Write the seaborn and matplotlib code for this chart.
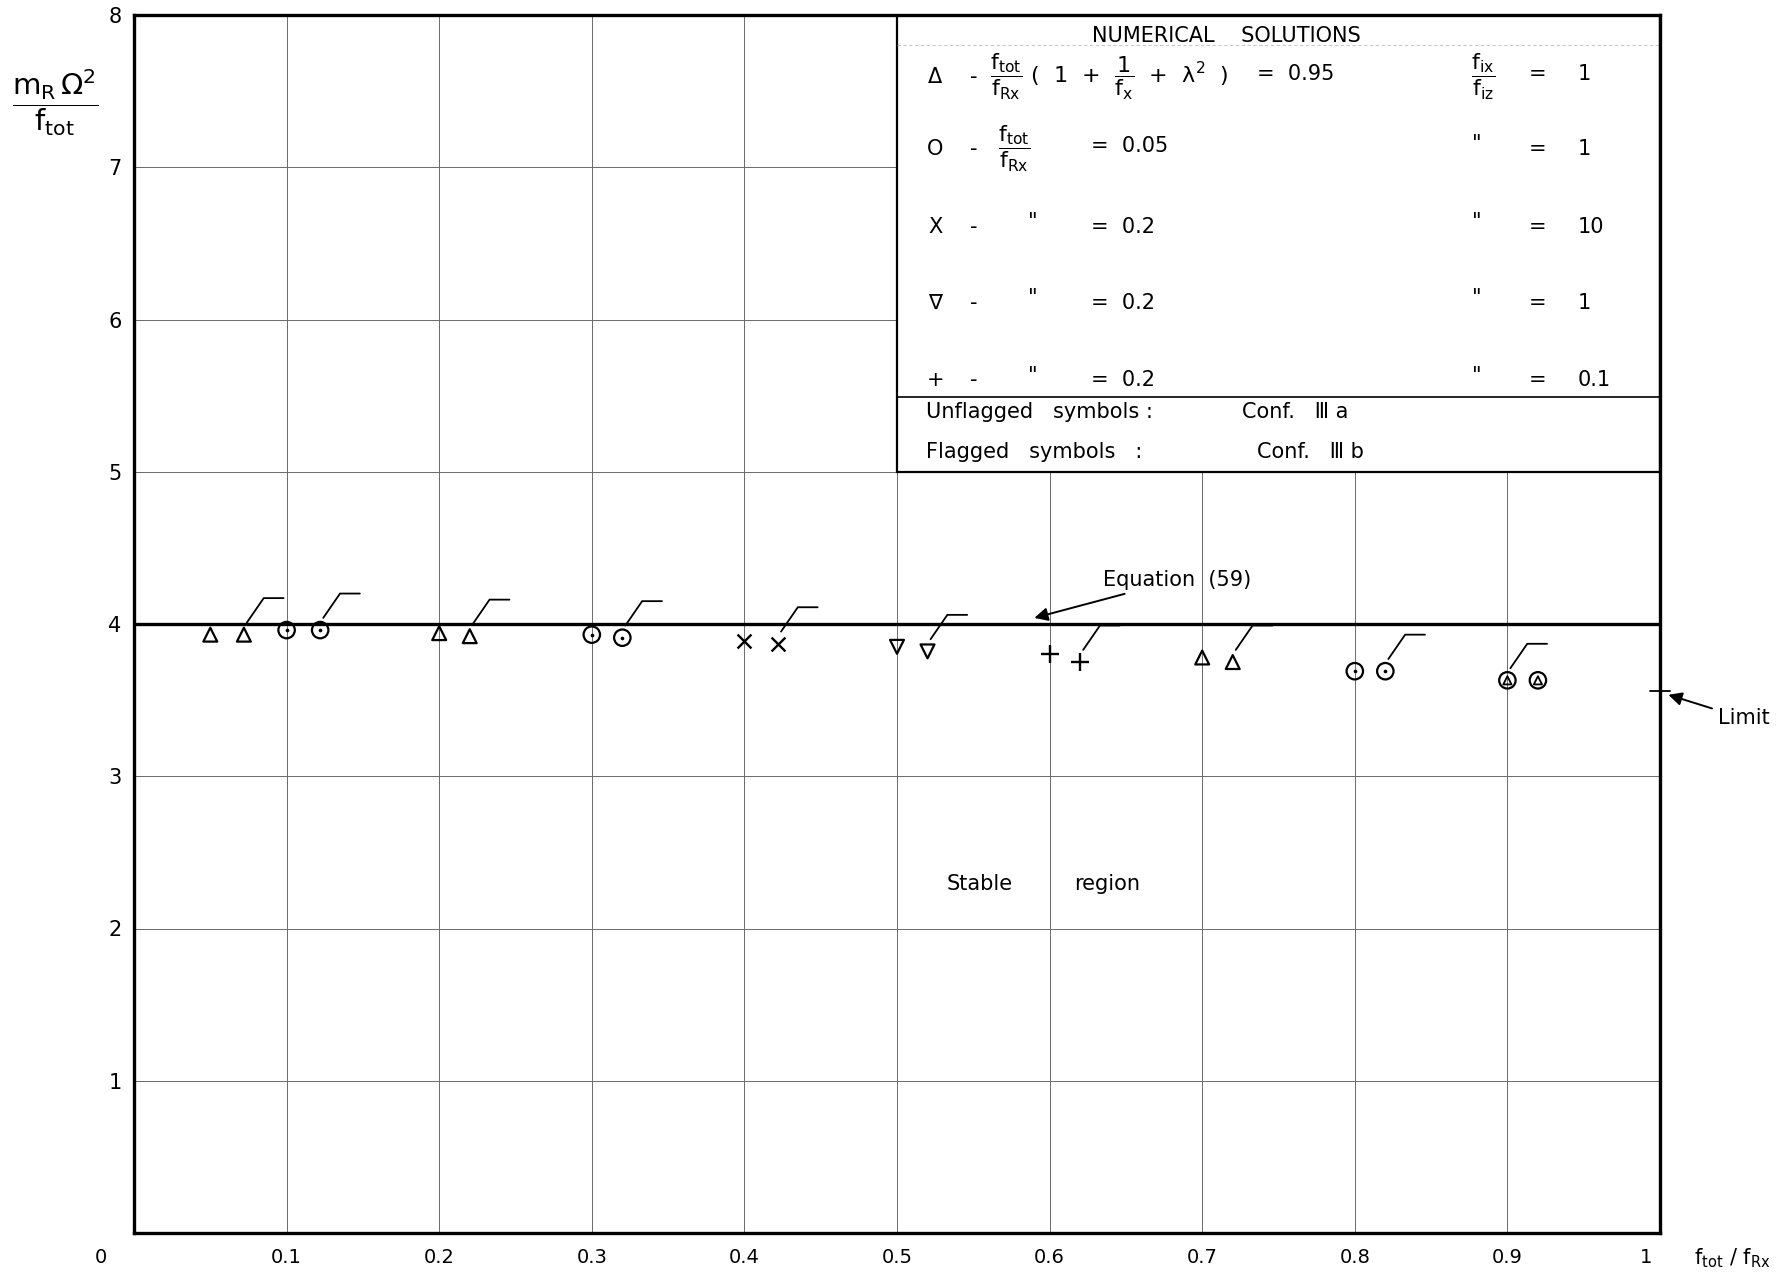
import matplotlib
matplotlib.use("Agg")
import matplotlib.pyplot as plt
import matplotlib.transforms as mtransforms
from matplotlib.patches import Rectangle
import seaborn as sns
import pandas as pd

# ---------------- data ----------------
x_ticks = [0.0, 0.1, 0.2, 0.3, 0.4, 0.5, 0.6, 0.7, 0.8, 0.9, 1.0]
x_tick_labels = ["0", "0.1", "0.2", "0.3", "0.4", "0.5", "0.6", "0.7", "0.8", "0.9", "1"]
y_ticks = [1, 2, 3, 4, 5, 6, 7, 8]
y_tick_labels = ["1", "2", "3", "4", "5", "6", "7", "8"]

point_x = [0.050, 0.072, 0.100, 0.122, 0.200, 0.220, 0.300, 0.320, 0.400, 0.422,
           0.500, 0.520, 0.600, 0.620, 0.700, 0.720, 0.800, 0.820, 0.900, 0.920]
point_y = [3.93, 3.93, 3.96, 3.96, 3.94, 3.92, 3.93, 3.91, 3.89, 3.87,
           3.85, 3.82, 3.80, 3.75, 3.78, 3.75, 3.69, 3.69, 3.63, 3.63]
point_symbol = ["tri", "tri", "circ", "circ", "tri", "tri", "circ", "circ", "cross", "cross",
                "itri", "itri", "plus", "plus", "tri", "tri", "circ", "circ", "circtri", "circtri"]
point_flagged = [False, True, False, True, False, True, False, True, False, True,
                 False, True, False, True, False, True, False, True, True, False]

equation_level = 4.0
limit_level = 3.56

legend_title = "NUMERICAL    SOLUTIONS"
legend_symbols = ["Δ", "O", "X", "∇", "+"]
legend_left_expr = [r"$\dfrac{f_{tot}}{f_{Rx}}$ (  1  +  $\dfrac{1}{f_x}$  +  $\lambda^2$  )",
                    r"$\dfrac{f_{tot}}{f_{Rx}}$", '"', '"', '"']
legend_left_value = ["=  0.95", "=  0.05", "=  0.2", "=  0.2", "=  0.2"]
legend_right_expr = [r"$\dfrac{f_{ix}}{f_{iz}}$", '"', '"', '"', '"']
legend_right_value = ["1", "1", "10", "1", "0.1"]
legend_notes = ["Unflagged   symbols :", "Flagged   symbols   :"]
legend_conf = ["Conf.   Ⅲ a", "Conf.   Ⅲ b"]

df = pd.DataFrame({"x": point_x, "y": point_y, "symbol": point_symbol, "flagged": point_flagged})

# ---------------- style ----------------
sns.set_theme(style="white")
plt.rcParams["font.family"] = ["DejaVu Sans"]
plt.rcParams["mathtext.fontset"] = "dejavusans"
plt.rcParams["mathtext.default"] = "regular"
plt.rcParams["text.color"] = "black"
plt.rcParams["xtick.color"] = "black"
plt.rcParams["ytick.color"] = "black"

fig = plt.figure(figsize=(17.92, 12.77), dpi=100)
ax = fig.add_axes([134 / 1792, 44 / 1277, 1526 / 1792, 1218 / 1277])
ax.set_xlim(0, 1)
ax.set_ylim(0, 8)

# legend box (covers grid)
ax.add_patch(Rectangle((0.5, 5.0), 0.5, 3.0, facecolor="white", edgecolor="black", lw=1.6, zorder=1))
ax.plot([0.5, 1.0], [5.49, 5.49], color="black", lw=1.2, zorder=2)
ax.plot([0.5, 1.0], [7.80, 7.80], color="#bbbbbb", lw=0.6, ls=(0, (4, 3)), zorder=2)

# equation line
ax.axhline(equation_level, color="black", lw=2.4, zorder=3)

# markers
hollow = {"tri": ("^", 100), "itri": ("v", 100), "circ": ("o", 140), "circtri": ("o", 140)}
line_m = {"cross": ("x", 100), "plus": ("+", 150)}
for sym, (m, sz) in hollow.items():
    sub = df[df["symbol"] == sym]
    sns.scatterplot(data=sub, x="x", y="y", marker=m, s=sz, facecolors="none",
                    edgecolor="black", linewidth=1.6, ax=ax, legend=False, zorder=5)
for sym, (m, sz) in line_m.items():
    sub = df[df["symbol"] == sym]
    sns.scatterplot(data=sub, x="x", y="y", marker=m, s=sz, color="black",
                    linewidth=1.7, ax=ax, legend=False, zorder=5)
sub = df[df["symbol"] == "circ"]
sns.scatterplot(data=sub, x="x", y="y", marker="o", s=7, color="black", linewidth=0,
                ax=ax, legend=False, zorder=6)
sub = df[df["symbol"] == "circtri"]
sns.scatterplot(data=sub, x="x", y="y", marker="^", s=35, facecolors="none",
                edgecolor="black", linewidth=1.3, ax=ax, legend=False, zorder=6)

# flags
for _, r in df[df["flagged"]].iterrows():
    ax.plot([r.x + 0.002, r.x + 0.013, r.x + 0.026], [r.y + 0.08, r.y + 0.24, r.y + 0.24],
            color="black", lw=1.3, zorder=5, solid_joinstyle="miter")

ax.set_xlim(0, 1)
ax.set_ylim(0, 8)
ax.set_xlabel("")
ax.set_ylabel("")
ax.set_xticks(x_ticks)
ax.set_xticklabels(x_tick_labels, fontsize=14)
ax.set_yticks(y_ticks)
ax.set_yticklabels(y_tick_labels, fontsize=15)
ax.tick_params(axis="x", length=0, pad=11)
ax.tick_params(axis="y", length=0, pad=9)
ax.grid(True, color="#6a6a6a", lw=0.7)
ax.set_axisbelow(True)
for s in ax.spines.values():
    s.set_color("black")
    s.set_linewidth(2.4)

xl = ax.get_xticklabels()
xl[0].set_transform(xl[0].get_transform() + mtransforms.ScaledTranslation(-0.33, 0, fig.dpi_scale_trans))
xl[-1].set_transform(xl[-1].get_transform() + mtransforms.ScaledTranslation(-0.14, 0, fig.dpi_scale_trans))

# limit marker
ax.plot([0.9934, 1.0066], [limit_level, limit_level], color="black", lw=1.3, clip_on=False, zorder=6)
ax.annotate("Limit", xy=(1.0055, 3.535), xytext=(1.038, 3.38), fontsize=15, ha="left", va="center",
            annotation_clip=False,
            arrowprops=dict(arrowstyle="-|>", color="black", lw=1.4, mutation_scale=20, shrinkA=2, shrinkB=0))

# equation annotation
ax.annotate("Equation  (59)", xy=(0.59, 4.04), xytext=(0.635, 4.29), fontsize=15, ha="left", va="center",
            arrowprops=dict(arrowstyle="-|>", color="black", lw=1.4, mutation_scale=20, shrinkA=2, shrinkB=0),
            zorder=7)

# stable region
ax.text(0.554, 2.29, "Stable", fontsize=15, ha="center", va="center")
ax.text(0.638, 2.29, "region", fontsize=15, ha="center", va="center")

# legend texts
tk = dict(fontsize=15, va="center", zorder=7)
ax.text(0.716, 7.86, legend_title, ha="center", **tk)
rows_y = [7.59, 7.12, 6.61, 6.11, 5.60]
for i, yy in enumerate(rows_y):
    ax.text(0.525, yy, legend_symbols[i], ha="center", **tk)
    ax.text(0.550, yy, "-", ha="center", **tk)
    if i == 0:
        ax.text(0.561, yy, legend_left_expr[i], ha="left", fontsize=16, va="center", zorder=7)
        ax.text(0.736, yy + 0.02, legend_left_value[i], ha="left", **tk)
    elif i == 1:
        ax.text(0.566, yy, legend_left_expr[i], ha="left", fontsize=16, va="center", zorder=7)
        ax.text(0.627, yy + 0.02, legend_left_value[i], ha="left", **tk)
    else:
        ax.text(0.589, yy + 0.03, legend_left_expr[i], ha="center", **tk)
        ax.text(0.627, yy, legend_left_value[i], ha="left", **tk)
    if i == 0:
        ax.text(0.884, yy, legend_right_expr[i], ha="center", fontsize=16, va="center", zorder=7)
    else:
        ax.text(0.880, yy + 0.03, legend_right_expr[i], ha="center", **tk)
    ax.text(0.920, yy + (0.02 if i == 0 else 0), "=", ha="center", **tk)
    ax.text(0.946, yy + (0.02 if i == 0 else 0), legend_right_value[i], ha="left", **tk)
ax.text(0.519, 5.39, legend_notes[0], ha="left", **tk)
ax.text(0.519, 5.13, legend_notes[1], ha="left", **tk)
ax.text(0.726, 5.39, legend_conf[0], ha="left", **tk)
ax.text(0.736, 5.13, legend_conf[1], ha="left", **tk)

# axis labels
fig.text(55 / 1792, 1 - 103 / 1277, r"$\dfrac{m_R\,\Omega^2}{f_{tot}}$", fontsize=21, ha="center", va="center")
fig.text(1694 / 1792, 1 - 1258 / 1277, r"$f_{tot}$ / $f_{Rx}$", fontsize=15, ha="left", va="center")

fig.savefig("out.png", dpi=100)
